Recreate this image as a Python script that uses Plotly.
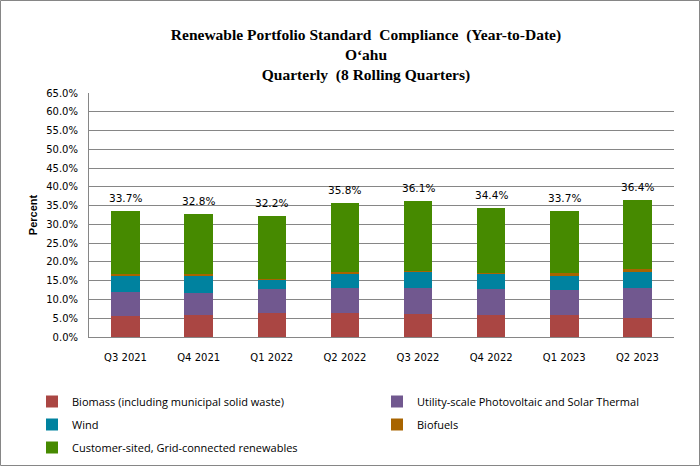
import plotly.graph_objects as go

quarters = ["Q3 2021", "Q4 2021", "Q1 2022", "Q2 2022", "Q3 2022", "Q4 2022", "Q1 2023", "Q2 2023"]
biomass = [5.6, 5.8, 6.3, 6.3, 6.15, 5.8, 5.8, 5.1]
utility_pv = [6.3, 5.9, 6.4, 6.8, 6.95, 6.95, 6.75, 8.0]
wind = [4.4, 4.6, 2.5, 3.9, 4.3, 4.1, 3.9, 4.45]
biofuels = [0.45, 0.45, 0.2, 0.35, 0.27, 0.27, 0.53, 0.45]
customer = [16.95, 16.05, 16.8, 18.45, 18.43, 17.28, 16.72, 18.4]
totals = [33.7, 32.8, 32.2, 35.8, 36.1, 34.4, 33.7, 36.4]
yticks = list(range(0, 70, 5))

series = [
    ("Biomass (including municipal solid waste)", biomass, "#AA4643", "legend"),
    ("Utility-scale Photovoltaic and Solar Thermal", utility_pv, "#71588F", "legend2"),
    ("Wind", wind, "#00829F", "legend"),
    ("Biofuels", biofuels, "#A86400", "legend2"),
    ("Customer-sited, Grid-connected renewables", customer, "#468A00", "legend"),
]

W, H = 700, 466
L, R, T, B = 89, 26, 93, 129
pw, ph = W - L - R, H - T - B

fig = go.Figure()
for i, (name, vals, col, lg) in enumerate(series):
    fig.add_trace(go.Bar(x=quarters, y=vals, name=name, legend=lg, legendgroup=f"g{i}",
                         marker=dict(color=col, line=dict(width=0)), width=0.39))

for q, v in zip(quarters, totals):
    fig.add_annotation(x=q, y=v, xref="x", yref="y", text=f"{v:.1f}%", showarrow=False,
                       yanchor="bottom", yshift=5,
                       font=dict(family="DejaVu Sans", size=10.5, color="#000000"))

legend_font = dict(family="Open Sans", size=11, color="#000000")
leg_top = -(387 - (T + ph)) / ph
fig.update_layout(
    barmode="stack",
    width=W, height=H,
    margin=dict(l=L, r=R, t=T, b=B, autoexpand=False),
    paper_bgcolor="white", plot_bgcolor="white",
    title=dict(text="<b>Renewable Portfolio Standard  Compliance  (Year-to-Date)<br>O‘ahu<br>Quarterly  (8 Rolling Quarters)</b>",
               x=366 / W, xanchor="center", y=1 - 40 / H, yanchor="top",
               font=dict(family="Liberation Serif", size=15.5, color="#000000")),
    yaxis=dict(range=[0, 65], tickvals=yticks, ticktext=[f"{v:.1f}%" for v in yticks],
               showgrid=True, gridcolor="#868686", gridwidth=1,
               showline=True, linecolor="#868686", linewidth=1,
               ticks="", ticklabelstandoff=8,
               tickfont=dict(family="DejaVu Sans", size=10, color="#000000"),
               title=dict(text="<b>Percent</b>", font=dict(family="Liberation Sans", size=11, color="#000000"), standoff=6),
               zeroline=False),
    xaxis=dict(showline=True, linecolor="#868686", linewidth=1,
               tickfont=dict(family="DejaVu Sans", size=10, color="#000000"),
               ticks="", ticklabelstandoff=11, range=[-0.5, 7.5]),
    legend=dict(orientation="v", x=(32 - L) / pw, y=leg_top, xanchor="left", yanchor="top",
                font=legend_font, tracegroupgap=4, itemwidth=30, bgcolor="rgba(0,0,0,0)"),
    legend2=dict(orientation="v", x=(377 - L) / pw, y=leg_top, xanchor="left", yanchor="top",
                 font=legend_font, tracegroupgap=4, itemwidth=30, bgcolor="rgba(0,0,0,0)"),
    showlegend=True,
)

fig.add_shape(type="rect", xref="paper", yref="paper",
              x0=(0.5 - L) / pw, x1=(W - 0.5 - L) / pw,
              y0=-(H - 0.5 - (T + ph)) / ph, y1=(T + ph - 0.5) / ph,
              line=dict(color="#868686", width=1), layer="below")

fig.write_html("out.html", config={"displayModeBar": False},
               post_script="document.body.style.margin='0';")
